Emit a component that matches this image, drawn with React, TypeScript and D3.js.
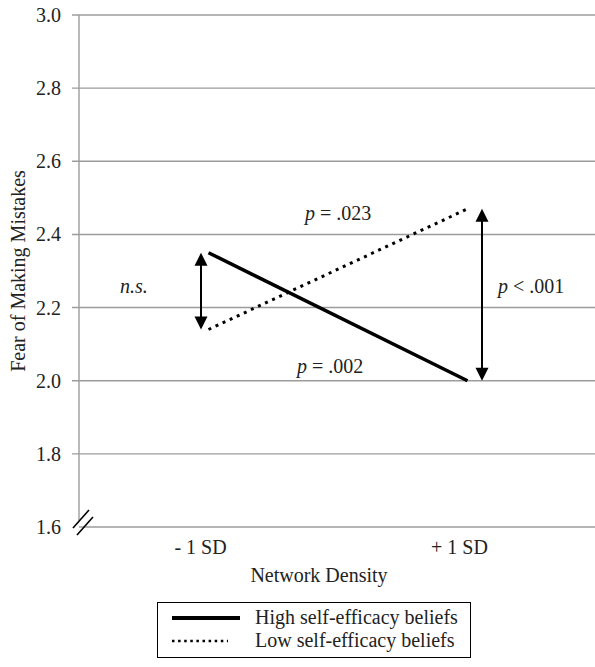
import React, { useRef, useEffect } from "react";
import { select, scaleLinear, scalePoint, line, range } from "d3";

// chart values
const categories = ["- 1 SD", "+ 1 SD"];
const highEfficacy = [2.35, 2.0];
const lowEfficacy = [2.14, 2.47];
const yTicks = [1.6, 1.8, 2.0, 2.2, 2.4, 2.6, 2.8, 3.0];
const seriesNames = ["High self-efficacy beliefs", "Low self-efficacy beliefs"];

// simple-slope comparisons drawn as double arrows
const arrowCats = ["- 1 SD", "+ 1 SD"];
const arrowFrom = [2.35, 2.47];
const arrowTo = [2.14, 2.0];

const W = 595;
const H = 667;
const FONT = "Liberation Serif";
const FS = 20;

const App = () => {
  const svgRef = useRef(null);

  useEffect(() => {
    const svg = select(svgRef.current);
    svg.selectAll("*").remove();

    const left = 79;
    const y = scaleLinear().domain([1.6, 3.0]).range([527, 15]);
    const x = scalePoint().domain(categories).range([left, 597]).padding(0.5);

    // gridlines + tick labels
    const grid = svg.append("g");
    grid
      .selectAll("line")
      .data(yTicks)
      .join("line")
      .attr("x1", (d) => (d === 1.6 ? left : 72))
      .attr("x2", W)
      .attr("y1", (d) => y(d))
      .attr("y2", (d) => y(d))
      .attr("stroke", "#9c9c9c")
      .attr("stroke-width", 1.4);
    grid
      .selectAll("text")
      .data(yTicks)
      .join("text")
      .attr("x", 61)
      .attr("y", (d) => y(d))
      .attr("dy", "0.35em")
      .attr("text-anchor", "end")
      .style("font-family", FONT)
      .attr("font-size", FS)
      .attr("fill", "#222")
      .text((d) => d.toFixed(1));

    // y axis line
    svg
      .append("line")
      .attr("x1", left)
      .attr("x2", left)
      .attr("y1", y(3.0))
      .attr("y2", y(1.6) - 6)
      .attr("stroke", "#9c9c9c")
      .attr("stroke-width", 1.4);

    // axis break marks
    const brk = svg.append("g").attr("stroke", "#000").attr("stroke-width", 1.6);
    [0, 1].forEach((i) => {
      brk
        .append("line")
        .attr("x1", 73 + i * 4)
        .attr("y1", y(1.6) + 1 + i * 7)
        .attr("x2", 89 + i * 4)
        .attr("y2", y(1.6) - 17 + i * 7);
    });

    // category labels
    svg
      .append("g")
      .selectAll("text")
      .data(categories)
      .join("text")
      .attr("x", (d) => x(d) - 8)
      .attr("y", 554)
      .attr("text-anchor", "middle")
      .style("font-family", FONT)
      .attr("font-size", FS)
      .attr("fill", "#222")
      .text((d) => d);

    svg
      .append("text")
      .attr("x", 319)
      .attr("y", 582)
      .attr("text-anchor", "middle")
      .style("font-family", FONT)
      .attr("font-size", FS)
      .attr("fill", "#222")
      .text("Network Density");

    svg
      .append("text")
      .attr("transform", `translate(25,${(y(3.0) + y(1.6)) / 2}) rotate(-90)`)
      .attr("text-anchor", "middle")
      .style("font-family", FONT)
      .attr("font-size", FS)
      .attr("fill", "#222")
      .text("Fear of Making Mistakes");

    // series lines
    const myLine = line()
      .x((d, i) => x(categories[i]))
      .y((d) => y(d));

    svg
      .append("path")
      .attr("d", myLine(highEfficacy))
      .attr("fill", "none")
      .attr("stroke", "#000")
      .attr("stroke-width", 3.5);
    svg
      .append("path")
      .attr("d", myLine(lowEfficacy))
      .attr("fill", "none")
      .attr("stroke", "#000")
      .attr("stroke-width", 3)
      .attr("stroke-dasharray", "3 4.8");

    // double arrows
    const arrowDx = [-7.5, 14.5];
    const head = 13;
    range(arrowCats.length).forEach((i) => {
      const ax = x(arrowCats[i]) + arrowDx[i];
      const top = y(arrowFrom[i]);
      const bot = y(arrowTo[i]);
      const g = svg.append("g");
      g.append("line")
        .attr("x1", ax)
        .attr("x2", ax)
        .attr("y1", top + head - 1)
        .attr("y2", bot - head + 1)
        .attr("stroke", "#000")
        .attr("stroke-width", 2);
      g.append("path")
        .attr("d", `M${ax},${top} L${ax - 6.5},${top + head} L${ax + 6.5},${top + head} Z`)
        .attr("fill", "#000");
      g.append("path")
        .attr("d", `M${ax},${bot} L${ax - 6.5},${bot - head} L${ax + 6.5},${bot - head} Z`)
        .attr("fill", "#000");
    });

    // annotations
    const mid = (x(categories[0]) + x(categories[1])) / 2;
    const note = (tx, ty, italic, rest) => {
      const t = svg
        .append("text")
        .attr("x", tx)
        .attr("y", ty)
        .style("font-family", FONT)
        .attr("font-size", FS)
        .attr("fill", "#222");
      t.append("tspan").attr("font-style", "italic").text(italic);
      if (rest) t.append("tspan").text(rest);
    };
    note(mid - 33, y(2.44), "p", " = .023");
    note(mid - 41, y(2.02), "p", " = .002");
    note(498, y(2.24), "p", " < .001");
    note(120, y(2.24), "n.s.", null);

    // legend
    const lg = svg.append("g");
    lg.append("rect")
      .attr("x", 157.5)
      .attr("y", 602.5)
      .attr("width", 313)
      .attr("height", 55)
      .attr("fill", "#fff")
      .attr("stroke", "#000")
      .attr("stroke-width", 1);
    seriesNames.forEach((name, i) => {
      const ly = 618 + i * 23;
      lg.append("line")
        .attr("x1", 172)
        .attr("x2", i === 0 ? 240 : 228)
        .attr("y1", ly)
        .attr("y2", ly)
        .attr("stroke", "#000")
        .attr("stroke-width", i === 0 ? 4 : 2.5)
        .attr("stroke-dasharray", i === 0 ? null : "2.5 3.6");
      lg.append("text")
        .attr("x", 255)
        .attr("y", ly + 6)
        .style("font-family", FONT)
        .attr("font-size", FS)
        .attr("fill", "#222")
        .text(name);
    });
  }, []);

  return (
    <svg
      ref={svgRef}
      width={W}
      height={H}
      style={{ position: "absolute", left: 0, top: 0, background: "#fff" }}
    />
  );
};

export default App;
